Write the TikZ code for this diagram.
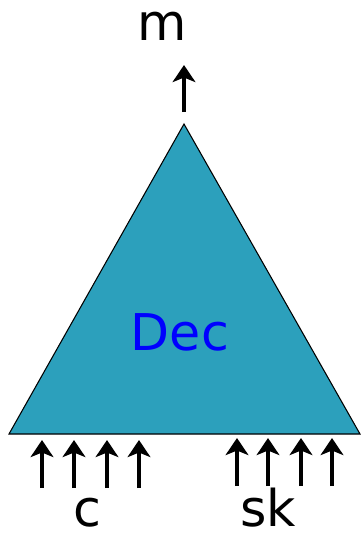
\documentclass[tikz,border=0pt]{standalone}
\usepackage{fontspec}
\setmainfont{DejaVu Sans}
\usetikzlibrary{arrows.meta}
\definecolor{decfill}{HTML}{2CA0BC}
\definecolor{dectext}{HTML}{0000FF}

\begin{document}
\begin{tikzpicture}[x=0.75pt, y=-0.75pt, font=\fontsize{38}{46}\selectfont,
  lbl/.style={inner sep=0pt, anchor=base},
  arr/.style={-{Stealth[length=4.5mm, width=6mm, inset=1.2mm]}, line width=3pt, color=black}]
\useasboundingbox (0,0) rectangle (362,537);
% decoder triangle
\coordinate (apex) at (184,124);
\coordinate (bl) at (9,434);
\coordinate (br) at (360,434);
\filldraw[fill=decfill, draw=black, line width=0.8pt] (bl) -- (apex) -- (br) -- cycle;
\node[lbl, text=dectext] (dec) at (180,350) {Dec};
% output
\coordinate (mout) at (184,112);
\coordinate (mtip) at (184,65);
\draw[arr] (mout) -- (mtip);
\node[lbl] (m) at (162,40) {m};
% inputs
\foreach \x/\n in {42/c1, 74/c2, 107/c3, 139/c4} {
  \coordinate (\n s) at (\x,488);
  \coordinate (\n e) at (\x,440);
  \draw[arr] (\n s) -- (\n e);
}
\foreach \x/\n in {237/k1, 268/k2, 301/k3, 332/k4} {
  \coordinate (\n s) at (\x,486);
  \coordinate (\n e) at (\x,438);
  \draw[arr] (\n s) -- (\n e);
}
\node[lbl] (c) at (87,526) {c};
\node[lbl] (sk) at (268,526) {sk};
\end{tikzpicture}
\end{document}
